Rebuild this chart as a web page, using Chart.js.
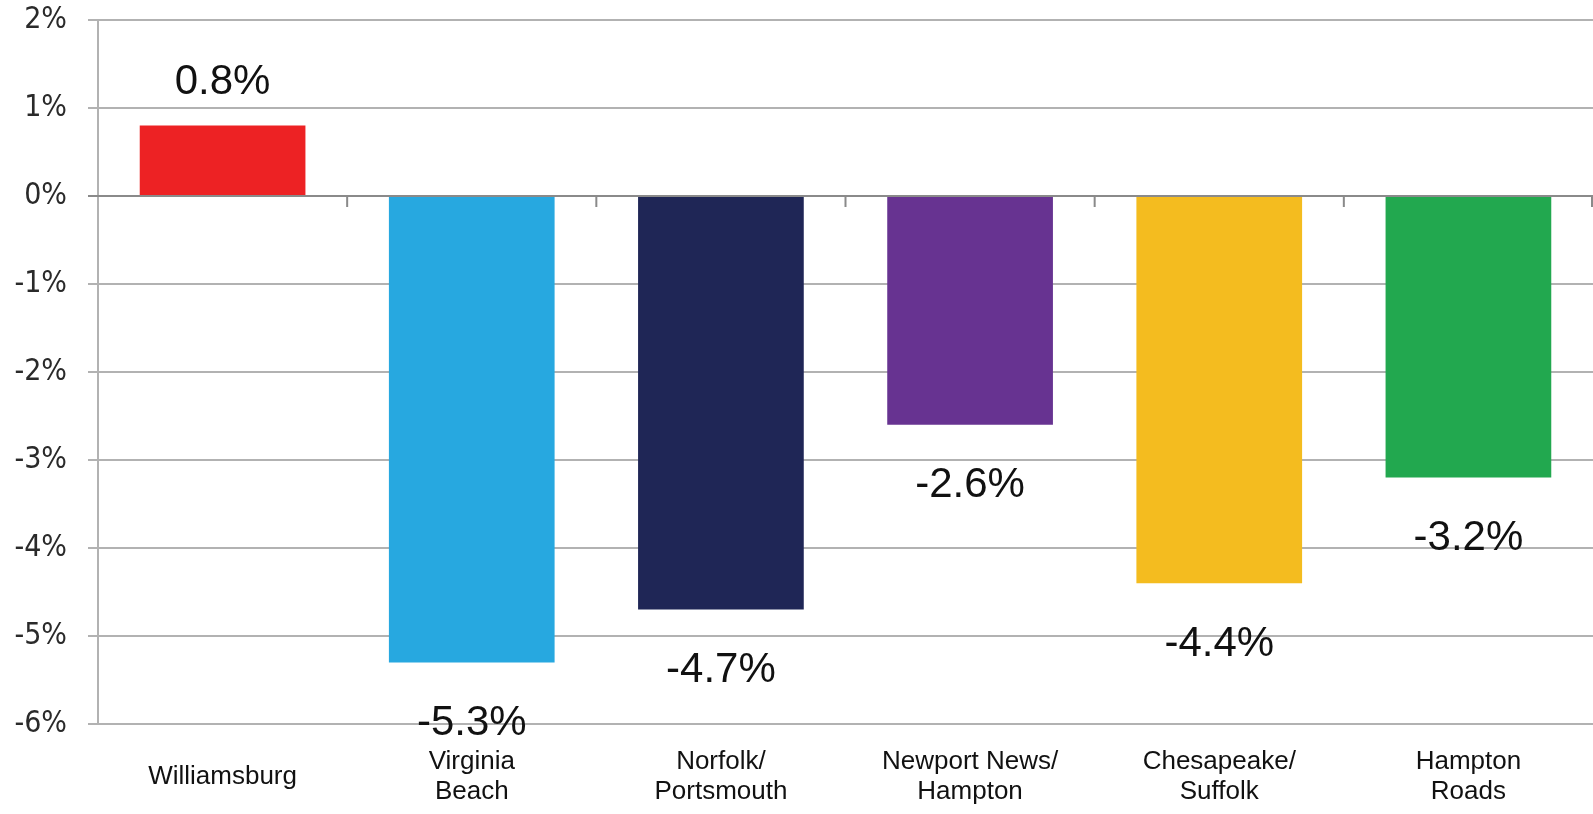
<!DOCTYPE html>
<html lang="en">
<head>
<meta charset="UTF-8" />
<title>Change by region</title>
<script src="https://cdn.jsdelivr.net/npm/chart.js"></script>
<style>
    html, body { margin: 0; padding: 0; background: #fff; }
    #wrap { width: 1593px; height: 814px; position: relative; }
</style>
</head>
<body>
<div id="wrap"><canvas id="chart"></canvas></div>
<script>
    const regions = [
        'Williamsburg',
        ['Virginia', 'Beach'],
        ['Norfolk/', 'Portsmouth'],
        ['Newport News/', 'Hampton'],
        ['Chesapeake/', 'Suffolk'],
        ['Hampton', 'Roads']
    ];
    const change = [0.8, -5.3, -4.7, -2.6, -4.4, -3.2];
    const barColors = ['#ed2224', '#27a8e0', '#1f2656', '#673391', '#f4bc1f', '#22a84f'];
    const yTicks = [2, 1, 0, -1, -2, -3, -4, -5, -6];

    const gridGray = '#b2b2b2';
    const zeroGray = '#8a8a8a';

    // value text above positive bars, below negative ones
    const valueLabels = {
        id: 'valueLabels',
        afterDatasetsDraw(chart) {
            const ctx = chart.ctx;
            const meta = chart.getDatasetMeta(0);
            ctx.save();
            ctx.font = '42px "Liberation Sans", Arial, sans-serif';
            ctx.fillStyle = '#111';
            ctx.textAlign = 'center';
            ctx.textBaseline = 'middle';
            meta.data.forEach((bar, i) => {
                const v = change[i];
                const y = v >= 0 ? bar.y - 43 : bar.y + 61;
                ctx.fillText(v.toFixed(1) + '%', bar.x, y);
            });
            ctx.restore();
        }
    };

    // zero line over the bars, with short ticks between categories
    const zeroAxis = {
        id: 'zeroAxis',
        afterDatasetsDraw(chart) {
            const ctx = chart.ctx;
            const x = chart.scales.x;
            const y0 = chart.scales.y.getPixelForValue(0);
            ctx.save();
            ctx.strokeStyle = zeroGray;
            ctx.lineWidth = 2;
            ctx.beginPath();
            ctx.moveTo(chart.chartArea.left - 10, y0);
            ctx.lineTo(chart.chartArea.right, y0);
            for (let i = 1; i <= regions.length; i++) {
                const bx = i < regions.length
                    ? (x.getPixelForValue(i - 1) + x.getPixelForValue(i)) / 2
                    : x.right - 1;
                ctx.moveTo(bx, y0);
                ctx.lineTo(bx, y0 + 11);
            }
            ctx.stroke();
            ctx.restore();
        }
    };

    new Chart(document.getElementById('chart'), {
        type: 'bar',
        data: {
            labels: regions,
            datasets: [{
                data: change,
                backgroundColor: barColors,
                borderWidth: 0,
                barPercentage: 0.665,
                categoryPercentage: 1
            }]
        },
        options: {
            responsive: true,
            maintainAspectRatio: false,
            animation: false,
            layout: { padding: { top: 20, right: 0, bottom: 0, left: 0 } },
            plugins: {
                legend: { display: false },
                tooltip: { enabled: false }
            },
            scales: {
                x: {
                    grid: { display: false, drawTicks: false },
                    border: { display: false },
                    ticks: {
                        color: '#111',
                        font: { family: '"Liberation Sans", Arial, sans-serif', size: 26, lineHeight: 1.15 },
                        padding: 38,
                        crossAlign: 'center',
                        maxRotation: 0,
                        autoSkip: false
                    },
                    afterFit(scale) { scale.height = 90; }
                },
                y: {
                    min: -6,
                    max: 2,
                    afterBuildTicks(scale) {
                        scale.ticks = yTicks.map(v => ({ value: v }));
                    },
                    grid: {
                        color: gridGray,
                        lineWidth: 2,
                        tickLength: 10
                    },
                    border: { display: true, color: gridGray, width: 2 },
                    ticks: {
                        color: '#2a2a2a',
                        font: { family: '"Liberation Sans Narrow", "DejaVu Sans Condensed", "Liberation Sans", sans-serif', size: 30 },
                        padding: 21,
                        callback: v => v + '%'
                    },
                    afterFit(scale) {
                        scale.width = 98;
                        scale.paddingTop = 0;
                        scale.paddingBottom = 0;
                    }
                }
            }
        },
        plugins: [valueLabels, zeroAxis]
    });
</script>
</body>
</html>
